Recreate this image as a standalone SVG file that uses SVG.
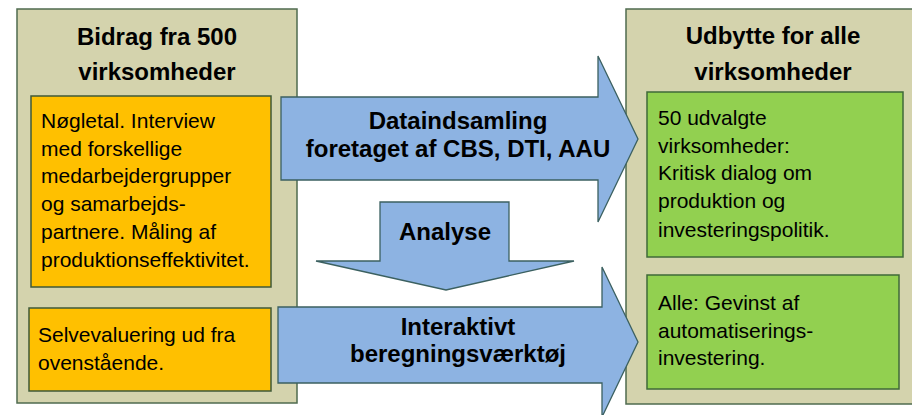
<svg xmlns="http://www.w3.org/2000/svg" width="912" height="415" viewBox="0 0 912 415">
<style>
.panel{fill:#d4d3ad;stroke:#4f6b4f;stroke-width:1.5}
.org{fill:#ffc000;stroke:#3f5a38;stroke-width:1.5}
.grn{fill:#92d050;stroke:#3f6a38;stroke-width:1.5}
.arr{fill:#8db3e2;stroke:#3b6060;stroke-width:1.3}
.title{font-family:"Liberation Sans",Arial,sans-serif;font-weight:bold;font-size:24px;fill:#000;text-anchor:middle}
.body{font-family:"Liberation Sans",Arial,sans-serif;font-size:21px;fill:#000}
</style>
<rect width="912" height="415" fill="#fff"/>
<g id="left-panel">
<rect class="panel" x="17" y="9" width="280" height="394"/>
<text class="title" x="157" y="45">Bidrag fra 500</text>
<text class="title" x="157" y="80">virksomheder</text>
</g>
<g id="right-panel">
<rect class="panel" x="626" y="9" width="300" height="395"/>
<text class="title" x="773" y="44">Udbytte for alle</text>
<text class="title" x="773" y="80">virksomheder</text>
</g>
<g id="box-noegletal">
<rect class="org" x="31" y="96" width="240" height="191"/>
<text class="body" x="41" y="128">Nøgletal. Interview</text>
<text class="body" x="41" y="156">med forskellige</text>
<text class="body" x="41" y="183">medarbejdergrupper</text>
<text class="body" x="41" y="211">og samarbejds-</text>
<text class="body" x="41" y="239">partnere. Måling af</text>
<text class="body" x="41" y="267">produktionseffektivitet.</text>
</g>
<g id="box-selvevaluering">
<rect class="org" x="29" y="308" width="242" height="83"/>
<text class="body" x="38" y="342">Selvevaluering ud fra</text>
<text class="body" x="38" y="370">ovenstående.</text>
</g>
<g id="box-50">
<rect class="grn" x="647" y="92" width="256" height="165"/>
<text class="body" x="658" y="125">50 udvalgte</text>
<text class="body" x="658" y="153">virksomheder:</text>
<text class="body" x="658" y="180">Kritisk dialog om</text>
<text class="body" x="658" y="208">produktion og</text>
<text class="body" x="658" y="237">investeringspolitik.</text>
</g>
<g id="box-alle">
<rect class="grn" x="647" y="275" width="252" height="114"/>
<text class="body" x="658" y="310">Alle: Gevinst af</text>
<text class="body" x="658" y="338">automatiserings-</text>
<text class="body" x="658" y="365">investering.</text>
</g>
<g id="connectors">
<g id="arrow-dataindsamling">
<polygon class="arr" points="281,97 598,97 598,56 638,139 598,222 598,180 281,180"/>
<text class="title" x="458" y="129">Dataindsamling</text>
<text class="title" x="458" y="157">foretaget af CBS, DTI, AAU</text>
</g>
<g id="arrow-analyse">
<polygon class="arr" points="380,202 509,202 509,261 574,261 446,290 316,261 380,261"/>
<text class="title" x="445" y="240">Analyse</text>
</g>
<g id="arrow-interaktivt">
<polygon class="arr" points="278,307 602,307 602,267 638,342 602,417 602,383 278,383"/>
<text class="title" x="458" y="335">Interaktivt</text>
<text class="title" x="458" y="362">beregningsværktøj</text>
</g>
</g>
</svg>
